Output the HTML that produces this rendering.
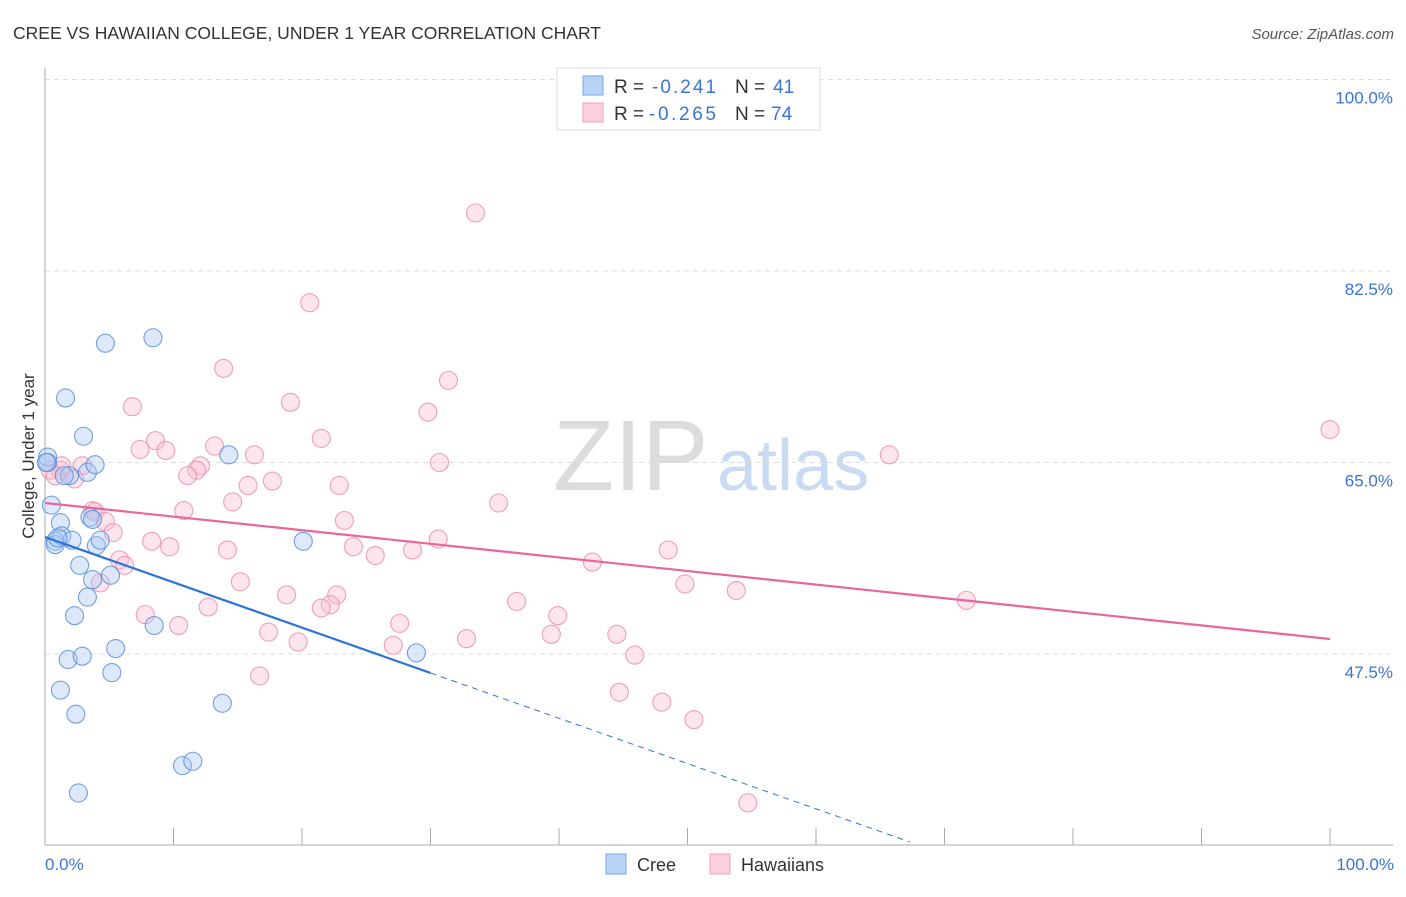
<!DOCTYPE html>
<html><head><meta charset="utf-8"><style>
body{margin:0;background:#fff;font-family:"Liberation Sans",sans-serif;}
svg text{font-family:"Liberation Sans",sans-serif;}
</style></head><body>
<svg id="chart" width="1406" height="892" xmlns="http://www.w3.org/2000/svg">
<text x="13" y="39" font-size="17.5" fill="#333">CREE VS HAWAIIAN COLLEGE, UNDER 1 YEAR CORRELATION CHART</text>
<text x="1394" y="39" font-size="15" fill="#555" text-anchor="end" font-style="italic">Source: ZipAtlas.com</text>
<text x="553" y="490" font-size="100" fill="#dcdcdc" font-family="Liberation Serif,serif">ZIP</text>
<text x="717" y="490" font-size="72" fill="#c9dbf2">atlas</text>
<g id="grid"></g><g id="axes"></g><g id="marks"></g>
<text transform="translate(34,456) rotate(-90)" font-size="17" fill="#333" text-anchor="middle">College, Under 1 year</text>
<text x="45" y="870" font-size="17" fill="#3a74d8">0.0%</text>
<text x="1394" y="870" font-size="17" fill="#3a74d8" text-anchor="end">100.0%</text>
<g>
<rect x="557" y="68" width="263" height="62" fill="#fff" stroke="#ddd"/>
<rect x="583" y="76" width="20" height="19" fill="#b8d3f5" stroke="#7aa6e6"/>
<rect x="583" y="103" width="20" height="19" fill="#fbcfdd" stroke="#f0a0b8"/>
<text x="614" y="93" font-size="19" fill="#333">R =</text>
<text x="652" y="93" font-size="19" fill="#3a74d8" textLength="64">-0.241</text>
<text x="735" y="93" font-size="19" fill="#333">N =</text>
<text x="773" y="93" font-size="19" fill="#3a74d8">41</text>
<text x="614" y="120" font-size="19" fill="#333">R =</text>
<text x="649" y="120" font-size="19" fill="#3a74d8" textLength="67">-0.265</text>
<text x="735" y="120" font-size="19" fill="#333">N =</text>
<text x="771" y="120" font-size="19" fill="#3a74d8">74</text>
</g>
<g>
<rect x="606" y="854" width="20" height="20" fill="#b8d3f5" stroke="#7aa6e6"/>
<text x="637" y="871" font-size="18" fill="#333">Cree</text>
<rect x="710" y="854" width="20" height="20" fill="#fbcfdd" stroke="#f0a0b8"/>
<text x="741" y="871" font-size="18" fill="#333">Hawaiians</text>
</g>
</svg>
<script>
const yTicks=[100,82.5,65,47.5];
const yTickLabels=["100.0%","82.5%","65.0%","47.5%"];
const xTicks=[0,10,20,30,40,50,60,70,80,90,100];
const creeX=[0.2,0.2,0.5,0.8,0.8,1.2,1.3,1.6,1.8,1.2,1.9,2.1,2.3,2.4,2.6,2.7,2.9,3.0,3.3,3.3,3.5,3.7,3.9,4.0,4.3,4.7,5.1,5.2,5.5,8.4,8.5,10.7,11.5,13.8,14.3,20.1,28.9,1.5,3.7,1.0,0.1];
const creeY=[65.5,65.0,61.1,57.8,57.5,59.5,58.3,70.9,47.0,44.2,63.8,57.9,51.0,42.0,34.8,55.6,47.3,67.4,64.1,52.7,60.0,54.3,64.8,57.4,57.9,75.9,54.7,45.8,48.0,76.4,50.1,37.3,37.7,43.0,65.7,57.8,47.6,63.8,59.8,58.1,65.0];
const hawX=[33.5,20.6,13.9,31.4,19.1,6.8,29.8,100,21.5,8.6,7.4,9.4,13.2,16.3,65.7,30.7,12.1,11.8,11.1,17.7,0.4,1.2,1.3,2.3,2.9,15.8,22.9,14.6,35.3,10.8,3.7,3.9,4.7,5.3,23.3,30.6,8.3,9.7,14.2,24.0,25.7,28.6,48.5,5.8,6.2,42.6,4.3,15.2,49.8,53.8,71.7,18.8,22.7,36.7,22.2,7.8,12.7,39.9,21.5,10.4,27.6,17.4,19.7,32.8,39.4,44.5,27.1,45.9,16.7,44.7,48.0,50.5,54.7,0.8];
const hawY=[87.8,79.6,73.6,72.5,70.5,70.1,69.6,68.0,67.2,67.0,66.2,66.1,66.5,65.7,65.7,65.0,64.7,64.3,63.8,63.3,64.3,64.3,64.7,63.5,64.7,62.9,62.9,61.4,61.3,60.6,60.6,60.5,59.6,58.6,59.7,58.0,57.8,57.3,57.0,57.3,56.5,57.0,57.0,56.1,55.6,55.9,54.0,54.1,53.9,53.3,52.4,52.9,52.9,52.3,52.0,51.1,51.8,51.0,51.7,50.1,50.3,49.5,48.6,48.9,49.3,49.3,48.3,47.4,45.5,44.0,43.1,41.5,33.9,63.8];
const creeTrend=[58.19,-0.414];
const hawTrend=[61.3,-0.1243];
const sx=v=>45+v*12.85;
const sy=v=>79.5+(100-v)*10.943;
const NS="http://www.w3.org/2000/svg";
function mk(parent,tag,attrs){const e=document.createElementNS(NS,tag);for(const k in attrs)e.setAttribute(k,attrs[k]);document.getElementById(parent).appendChild(e);return e;}
yTicks.forEach((t,i)=>{
 const l=mk('grid','line',{x1:45,x2:1393,y1:sy(t),y2:sy(t),stroke:'#ddd','stroke-dasharray':'5,4'});
 
 
 const tx=mk('grid','text',{x:1393,y:sy(t)+24,'font-size':17,fill:'#3a74d8','text-anchor':'end'});
 tx.textContent=yTickLabels[i];
 
 
});
const ya=mk('axes','line',{x1:45,x2:45,y1:68,y2:845,stroke:'#aaa'});


const xa=mk('axes','line',{x1:45,x2:1393,y1:845,y2:845,stroke:'#aaa'});


xTicks.forEach(t=>{
 const l=mk('axes','line',{x1:sx(t),x2:sx(t),y1:828,y2:845,stroke:'#aaa'});
 
 
});
function dots(xs,ys,fill,stroke,name){
 xs.forEach((x,i)=>{
  const c=mk('marks','circle',{cx:sx(x),cy:sy(ys[i]),r:9,fill:fill,'fill-opacity':0.4,stroke:stroke,'stroke-width':1.1,'stroke-opacity':0.85});
  
  
 });
}
dots(hawX,hawY,'#f9bfd1','#ec8fab','hawaiian-point');
dots(creeX,creeY,'#a9c9f2','#5b8fdc','cree-point');
const hl=mk('marks','line',{x1:sx(0),y1:sy(hawTrend[0]),x2:sx(100),y2:sy(hawTrend[0]+hawTrend[1]*100),stroke:'#e8669a','stroke-width':2.2});


const cl=mk('marks','line',{x1:sx(0),y1:sy(creeTrend[0]),x2:sx(30),y2:sy(creeTrend[0]+creeTrend[1]*30),stroke:'#2d74d8','stroke-width':2.2});


const cd=mk('marks','line',{x1:sx(30),y1:sy(creeTrend[0]+creeTrend[1]*30),x2:sx(67.3),y2:sy(creeTrend[0]+creeTrend[1]*67.3),stroke:'#2d74d8','stroke-width':1,'stroke-dasharray':'6,5'});


</script>
</body></html>
